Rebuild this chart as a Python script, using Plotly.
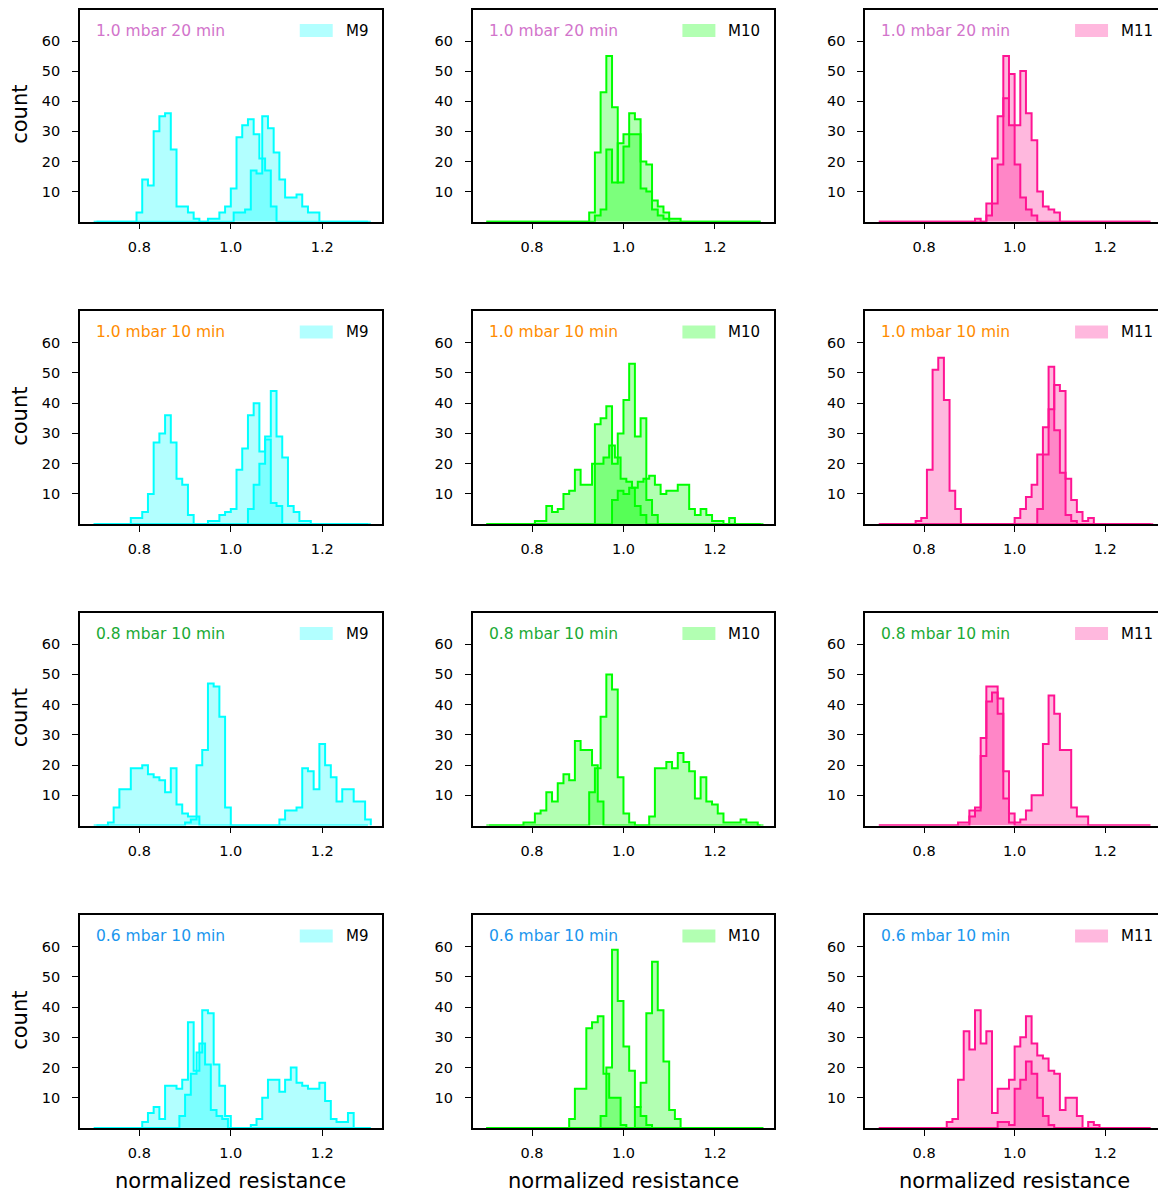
import plotly.graph_objects as go
from plotly.subplots import make_subplots

# ---------------- data ----------------
BIN_WIDTH = 0.0125
X_MIN = 0.7
N_BINS = 48

ROW_LABELS = ["1.0 mbar 20 min", "1.0 mbar 10 min", "0.8 mbar 10 min", "0.6 mbar 10 min"]
ROW_COLORS = ["#d274cb", "#ff8c00", "#1aaa35", "#1a96ee"]
DEVICES = ["M9", "M10", "M11"]
LINE_COLORS = ["#00ffff", "#00ff00", "#ff1493"]
FILL_COLORS = ["rgba(0,255,255,0.3)", "rgba(0,255,0,0.3)", "rgba(255,20,147,0.3)"]
X_TICKS = [0.8, 1.0, 1.2]
X_TICK_TEXT = ["0.8", "1.0", "1.2"]
Y_TICKS = [10, 20, 30, 40, 50, 60]

# each histogram: first bin position (in bins from 0.7, may be half-offset) and counts
M9_R1_A_START = 20
M9_R1_A = [1, 1, 3, 5, 11, 28, 32, 34, 29, 21, 17, 5]
M9_R1_B_START = 7.5
M9_R1_B = [3, 14, 12, 30, 35, 36, 24, 5, 5, 3, 1, 0, 0, 0, 0, 0, 0,
           3, 3, 4, 17, 16, 35, 31, 23, 14, 8, 8, 9, 5, 3, 3]

M10_R1_A_START = 18
M10_R1_A = [3, 23, 43, 55, 38, 13, 25, 29, 29, 11, 10, 4, 2, 1]
M10_R1_B_START = 19
M10_R1_B = [2, 4, 24, 13, 26, 29, 36, 34, 20, 19, 7, 5, 3, 1, 1]

M11_R1_A_START = 19
M11_R1_A = [6, 21, 35, 55, 32, 19, 8, 4, 2]
M11_R1_B_START = 17
M11_R1_B = [1, 0, 2, 6, 19, 41, 49, 32, 50, 36, 27, 10, 5, 4, 3]

M9_R2_L_START = 6.5
M9_R2_L = [2, 2, 4, 10, 27, 30, 36, 27, 15, 13, 3]
M9_R2_A_START = 20
M9_R2_A = [1, 1, 3, 4, 5, 18, 25, 36, 40, 24, 28, 7, 6]
M9_R2_B_START = 27
M9_R2_B = [5, 13, 20, 29, 44, 29, 22, 6, 4, 1, 1]

M10_R2_A_START = 19
M10_R2_A = [33, 35, 39, 20, 30, 41, 53, 29, 35, 8, 3]
M10_R2_B_START = 8.5
M10_R2_B = [1, 1, 6, 4, 5, 10, 11, 18, 13, 13, 20, 20, 22, 26, 22, 15, 14, 12, 14, 15,
            16, 13, 10, 11, 11, 13, 13, 5, 3, 5, 3, 1, 1, 0, 2]
M10_R2_C_START = 22
M10_R2_C = [8, 11, 10, 12, 6, 3]

M11_R2_L_START = 6.5
M11_R2_L = [1, 2, 18, 51, 55, 41, 11, 5]
M11_R2_A_START = 24
M11_R2_A = [2, 5, 9, 13, 23, 32, 38, 46, 44, 15, 8, 4, 1, 2]
M11_R2_B_START = 28
M11_R2_B = [5, 23, 52, 31, 17, 3, 1]

M9_R3_A_START = 16
M9_R3_A = [1, 2, 20, 25, 47, 46, 36, 6]
M9_R3_B_START = 2.5
M9_R3_B = [1, 6, 12, 12, 19, 19, 20, 17, 16, 15, 11, 19, 7, 4, 3, 3,
           0, 0, 0, 0, 0, 0, 0, 0, 0, 0, 0, 0, 0, 0,
           2, 5, 5, 6, 19, 18, 12, 27, 20, 16, 8, 12, 12, 8, 8, 2]

M10_R3_A_START = 18
M10_R3_A = [11, 19, 36, 50, 45, 16, 4, 1]
M10_R3_B_START = 6.5
M10_R3_B = [1, 1, 4, 5, 11, 8, 14, 17, 15, 28, 25, 25, 20, 8,
            0, 0, 0, 0, 0, 0, 0, 0,
            3, 19, 19, 21, 19, 24, 21, 18, 9, 16, 8, 7, 4, 1, 1, 1, 2, 1, 1]

M11_R3_A_START = 14
M11_R3_A = [1, 1, 5, 5, 29, 46, 46, 37, 9, 1]
M11_R3_B_START = 16
M11_R3_B = [3, 6, 23, 41, 44, 42, 18, 4, 1, 2, 5, 10, 10, 27, 43, 37, 25, 25, 6, 3, 3]

M9_R4_A_START = 15
M9_R4_A = [4, 11, 18, 25, 39, 38, 21, 14, 4]
M9_R4_B_START = 8.5
M9_R4_B = [2, 5, 7, 3, 14, 14, 13, 16, 35, 19, 28, 21, 6, 4, 3, 0, 0, 0, 0,
           1, 3, 10, 16, 16, 12, 16, 20, 15, 14, 13, 13, 15, 9, 3, 2, 2, 5]

M10_R4_L_START = 14.5
M10_R4_L = [3, 13, 13, 33, 35, 37, 18, 10, 10, 1]
M10_R4_A_START = 20
M10_R4_A = [4, 20, 59, 42, 27, 19, 7, 4, 1]
M10_R4_B_START = 26
M10_R4_B = [7, 15, 38, 55, 39, 22, 6, 3]

M11_R4_A_START = 12
M11_R4_A = [2, 3, 16, 32, 26, 39, 28, 32, 5, 13, 13, 16, 27, 30, 37, 28, 24, 23, 19, 18,
            6, 10, 10, 4, 0, 2, 1]
M11_R4_B_START = 21
M11_R4_B = [2, 2, 1, 13, 16, 22, 18, 10, 4, 1]

PANELS = [
    [[(M9_R1_A_START, M9_R1_A), (M9_R1_B_START, M9_R1_B)],
     [(M10_R1_A_START, M10_R1_A), (M10_R1_B_START, M10_R1_B)],
     [(M11_R1_A_START, M11_R1_A), (M11_R1_B_START, M11_R1_B)]],
    [[(M9_R2_L_START, M9_R2_L), (M9_R2_A_START, M9_R2_A), (M9_R2_B_START, M9_R2_B)],
     [(M10_R2_B_START, M10_R2_B), (M10_R2_A_START, M10_R2_A), (M10_R2_C_START, M10_R2_C)],
     [(M11_R2_L_START, M11_R2_L), (M11_R2_A_START, M11_R2_A), (M11_R2_B_START, M11_R2_B)]],
    [[(M9_R3_A_START, M9_R3_A), (M9_R3_B_START, M9_R3_B)],
     [(M10_R3_A_START, M10_R3_A), (M10_R3_B_START, M10_R3_B)],
     [(M11_R3_A_START, M11_R3_A), (M11_R3_B_START, M11_R3_B)]],
    [[(M9_R4_A_START, M9_R4_A), (M9_R4_B_START, M9_R4_B)],
     [(M10_R4_L_START, M10_R4_L), (M10_R4_A_START, M10_R4_A), (M10_R4_B_START, M10_R4_B)],
     [(M11_R4_A_START, M11_R4_A), (M11_R4_B_START, M11_R4_B)]],
]

# ---------------- layout geometry (page pixels) ----------------
PAGE_OFFSET = 8  # default body margin of the html page
FIG_W, FIG_H = 1166 - PAGE_OFFSET, 1193 - PAGE_OFFSET
COL_X = [(80, 382), (473, 775), (866, 1165)]
ROW_Y = [(8, 220), (310, 523), (612, 825), (915, 1128)]
FONT = "DejaVu Sans"


def px(x):
    return (x - PAGE_OFFSET) / FIG_W


def py(y):
    return 1 - (y - PAGE_OFFSET) / FIG_H


def step_xy(start, counts):
    base = start - int(start)
    lead = int(start - base)
    full = [0] * lead + list(counts)
    full = full + [0] * max(0, N_BINS - len(full))
    edges = [X_MIN + (base + i) * BIN_WIDTH for i in range(len(full) + 1)]
    xs = [edges[0]] + edges[:-1] + [edges[-1], edges[-1]]
    ys = [0] + full + [full[-1], 0]
    return xs, ys


fig = make_subplots(rows=4, cols=3)

annotations = []
shapes = []
for r in range(4):
    for c in range(3):
        idx = r * 3 + c + 1
        for start, counts in PANELS[r][c]:
            xs, ys = step_xy(start, counts)
            fig.add_trace(go.Scatter(
                x=xs, y=ys, mode="lines", line=dict(shape="hv", color=LINE_COLORS[c], width=2),
                fill="tozeroy", fillcolor=FILL_COLORS[c], showlegend=False, hoverinfo="skip"),
                row=r + 1, col=c + 1)
        x0, x1 = COL_X[c]
        y0, y1 = ROW_Y[r]
        xa = "xaxis" if idx == 1 else f"xaxis{idx}"
        ya = "yaxis" if idx == 1 else f"yaxis{idx}"
        fig.layout[xa].update(
            domain=[px(x0), px(x1)], range=[0.67, 1.33], tickvals=X_TICKS, ticktext=X_TICK_TEXT,
            showline=True, mirror=True, linecolor="black", linewidth=1.6, ticks="outside",
            ticklen=6, tickwidth=1.3, tickcolor="black", showgrid=False, zeroline=False,
            tickfont=dict(family=FONT, size=14.5, color="black"), ticklabelstandoff=5)
        fig.layout[ya].update(
            domain=[py(y1), py(y0)], range=[0, 70.3], tickvals=Y_TICKS,
            showline=True, mirror=True, linecolor="black", linewidth=1.6, ticks="outside",
            ticklen=6, tickwidth=1.3, tickcolor="black", showgrid=False, zeroline=False,
            tickfont=dict(family=FONT, size=14.5, color="black"), ticklabelstandoff=9)
        # condition label
        annotations.append(dict(
            x=px(x0 + 14), y=py(y0 + 21), xref="paper", yref="paper", xanchor="left", yanchor="middle",
            text=ROW_LABELS[r], showarrow=False, font=dict(family=FONT, size=15.5, color=ROW_COLORS[r])))
        # legend
        sw_left = x0 + (220 if c == 0 else 210)
        shapes.append(dict(type="rect", xref="paper", yref="paper",
                           x0=px(sw_left), x1=px(sw_left + 33), y0=py(y0 + 27), y1=py(y0 + 14),
                           fillcolor=FILL_COLORS[c], line=dict(width=0)))
        annotations.append(dict(
            x=px(sw_left + 44), y=py(y0 + 21), xref="paper", yref="paper", xanchor="left", yanchor="middle",
            text=DEVICES[c], showarrow=False, font=dict(family=FONT, size=15, color="black")))

for r in range(4):
    y0, y1 = ROW_Y[r]
    annotations.append(dict(
        x=px(20), y=py((y0 + y1) / 2 - 2), xref="paper", yref="paper", xanchor="center", yanchor="middle",
        text="count", textangle=-90, showarrow=False, font=dict(family=FONT, size=21, color="black")))
for c in range(3):
    x0, x1 = COL_X[c]
    annotations.append(dict(
        x=px((x0 + x1) / 2), y=py(1181), xref="paper", yref="paper", xanchor="center", yanchor="middle",
        text="normalized resistance", showarrow=False, font=dict(family=FONT, size=21, color="black")))

fig.update_layout(
    width=FIG_W, height=FIG_H, margin=dict(l=0, r=0, t=0, b=0),
    paper_bgcolor="white", plot_bgcolor="white", showlegend=False,
    annotations=annotations, shapes=shapes)

fig.write_html("out.html")
